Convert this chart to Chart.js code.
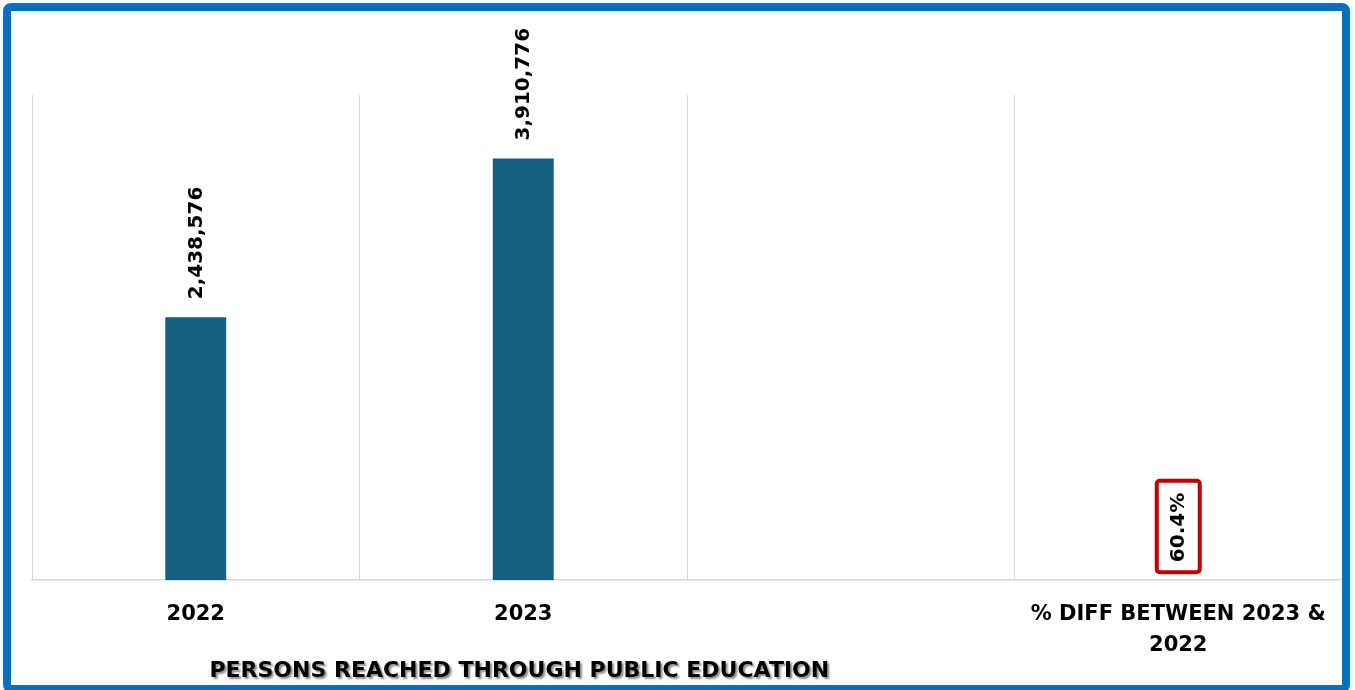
<!DOCTYPE html>
<html>
<head>
<meta charset="utf-8">
<title>Persons reached through public education</title>
<script src="https://cdn.jsdelivr.net/npm/chart.js@4.4.1/dist/chart.umd.min.js"></script>
<style>
  html, body { margin: 0; padding: 0; background: #fff; }
  #wrap { position: relative; width: 1355px; height: 690px; overflow: hidden; }
  #frame {
    position: absolute; left: 3px; top: 3px; width: 1347px; height: 690px;
    box-sizing: border-box; border: 8px solid #0070C0; border-radius: 8px;
    pointer-events: none;
  }
</style>
</head>
<body>
<div id="wrap">
  <canvas id="chart"></canvas>
  <div id="frame"></div>
</div>
<script>
const categories = ['2022', '2023', '', ['% DIFF BETWEEN 2023 &', '2022']];
const personsReached = [2438576, 3910776, null, 60.4];
const percentIndex = 3; // last slot is the year-on-year change, in %
const chartTitle = 'PERSONS REACHED THROUGH PUBLIC EDUCATION';

const FONT = 'DejaVu Sans';
Chart.defaults.font.family = FONT;
Chart.defaults.color = '#000';

// rotated labels above each bar; the percentage one gets a red box
const valueLabels = {
  id: 'valueLabels',
  afterDatasetsDraw(chart, args, opts) {
    const ctx = chart.ctx;
    const meta = chart.getDatasetMeta(0);
    ctx.save();
    ctx.font = `bold ${opts.size}px ${FONT}`;
    ctx.fillStyle = '#000';
    ctx.textAlign = 'left';
    ctx.textBaseline = 'middle';
    meta.data.forEach((bar, i) => {
      const v = personsReached[i];
      if (v == null) return;
      const text = i === percentIndex ? v.toFixed(1) + '%' : v.toLocaleString('en-US');
      const x = bar.x;
      const y = bar.y - opts.offset;
      if (i === percentIndex) {
        const w = ctx.measureText(text).width;
        ctx.save();
        ctx.strokeStyle = '#C00000';
        ctx.lineWidth = 4;
        ctx.beginPath();
        ctx.roundRect(x - 21.5, y - w - 12, 43, w + 22, 3);
        ctx.stroke();
        ctx.restore();
      }
      ctx.save();
      ctx.translate(x + 1, y);
      ctx.rotate(-Math.PI / 2);
      ctx.fillText(text, 0, 0);
      ctx.restore();
    });
    ctx.restore();
  }
};

const bottomTitle = {
  id: 'bottomTitle',
  afterDraw(chart, args, opts) {
    const { ctx, chartArea } = chart;
    ctx.save();
    ctx.font = `bold ${opts.size}px ${FONT}`;
    ctx.fillStyle = '#000';
    ctx.textAlign = 'center';
    ctx.textBaseline = 'middle';
    ctx.shadowColor = 'rgba(0,0,0,0.45)';
    ctx.shadowBlur = 2;
    ctx.shadowOffsetX = 2;
    ctx.shadowOffsetY = 2;
    ctx.fillText(opts.text, chartArea.left + chartArea.width * 0.372, opts.y);
    ctx.restore();
  }
};

new Chart(document.getElementById('chart'), {
  type: 'bar',
  data: {
    labels: categories,
    datasets: [{
      data: personsReached,
      backgroundColor: '#156082',
      categoryPercentage: 1,
      barPercentage: 0.186
    }]
  },
  options: {
    responsive: true,
    maintainAspectRatio: false,
    animation: false,
    layout: { padding: { left: 32, right: 13, top: 95, bottom: 10 } },
    scales: {
      x: {
        grid: { color: '#D9D9D9', lineWidth: 1, drawTicks: false },
        border: { color: '#D9D9D9', width: 1.5 },
        ticks: {
          padding: 18,
          autoSkip: false,
          maxRotation: 0,
          font: { size: 21, weight: 'bold', lineHeight: 1.52 }
        }
      },
      y: { display: false, min: 0, max: 4500000 }
    },
    plugins: {
      legend: { display: false },
      tooltip: { enabled: false },
      valueLabels: { size: 20, offset: 18 },
      bottomTitle: { text: chartTitle, size: 22, y: 671 }
    }
  },
  plugins: [valueLabels, bottomTitle]
});
</script>
</body>
</html>
